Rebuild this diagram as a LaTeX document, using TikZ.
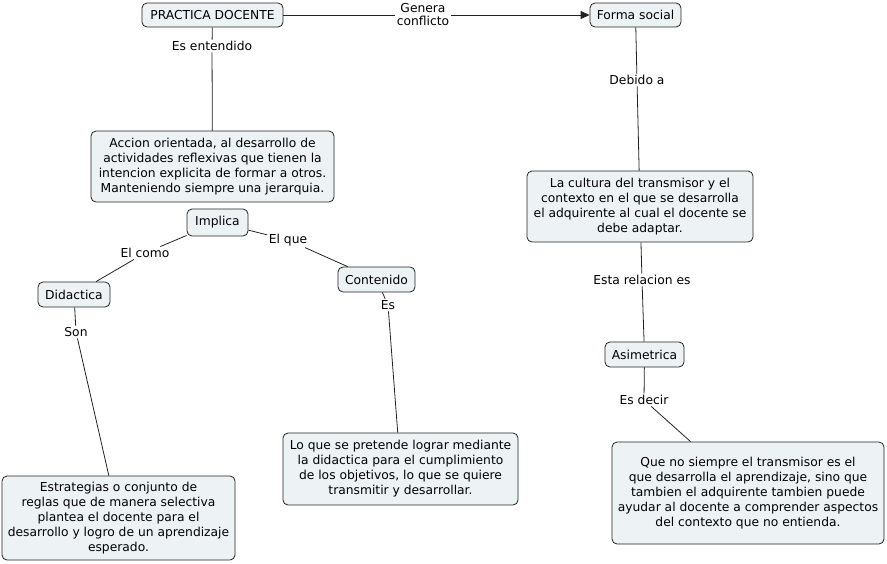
\documentclass[tikz,border=0pt]{standalone}
\usepackage{fontspec}
\setmainfont{DejaVu Sans}
\usetikzlibrary{arrows.meta}
\definecolor{cfill}{HTML}{EDF3F5}
\definecolor{cline}{HTML}{222222}
\tikzset{
  concept/.style={draw=cline, fill=cfill, rounded corners=5pt, line width=0.8pt, align=center, inner sep=2pt, font=\fontsize{12.3}{15}\selectfont},
  linklabel/.style={fill=white, align=center, inner sep=1.5pt, font=\fontsize{12.3}{13}\selectfont},
  conn/.style={draw=cline, line width=0.8pt}
}
\begin{document}
\begin{tikzpicture}[x=1pt,y=-1pt]
\useasboundingbox (0,0) rectangle (887,563);
% concepts
\node[concept, minimum width=141pt, minimum height=24pt] (pd) at (212.5,15) {PRACTICA DOCENTE};
\node[concept, minimum width=91pt, minimum height=24pt] (fs) at (635.5,15) {Forma social};
\node[concept, minimum width=243pt, minimum height=71pt] (acc) at (212.5,166.5) {Accion orientada, al desarrollo de\\actividades reflexivas que tienen la\\intencion explicita de formar a otros.\\Manteniendo siempre una jerarquia.};
\node[concept, minimum width=61pt, minimum height=27pt] (imp) at (217.5,222.5) {Implica};
\node[concept, minimum width=72pt, minimum height=25pt] (did) at (74,294.5) {Didactica};
\node[concept, minimum width=77pt, minimum height=25pt] (con) at (376.5,279.5) {Contenido};
\node[concept, minimum width=235pt, minimum height=72pt] (loq) at (400.5,469) {Lo que se pretende lograr mediante\\la didactica para el cumplimiento\\de los objetivos, lo que se quiere\\transmitir y desarrollar.};
\node[concept, minimum width=233pt, minimum height=84pt] (est) at (118.5,518) {Estrategias o conjunto de\\reglas que de manera selectiva\\plantea el docente para el\\desarrollo y logro de un aprendizaje\\esperado.};
\node[concept, minimum width=226pt, minimum height=71pt] (cul) at (640,206.5) {La cultura del transmisor y el\\contexto en el que se desarrolla\\el adquirente al cual el docente se\\debe adaptar.};
\node[concept, minimum width=79pt, minimum height=25pt] (asi) at (644.5,354.5) {Asimetrica};
\node[concept, minimum width=272pt, minimum height=102pt] (que) at (748,493) {Que no siempre el transmisor es el\\que desarrolla el aprendizaje, sino que\\tambien el adquirente tambien puede\\ayudar al docente a comprender aspectos\\del contexto que no entienda.};
% link labels
\node[linklabel] (l1) at (423,15) {Genera\\conflicto};
\node[linklabel] (l2) at (212,46) {Es entendido};
\node[linklabel] (l3) at (145,253) {El como};
\node[linklabel] (l4) at (288,240) {El que};
\node[linklabel] (l5) at (388,305) {Es};
\node[linklabel] (l6) at (76,332) {Son};
\node[linklabel] (l7) at (637,80) {Debido a};
\node[linklabel] (l8) at (642,280) {Esta relacion es};
\node[linklabel] (l9) at (644,400) {Es decir};
% connectors
\draw[conn] (pd) -- (l1);
\draw[conn, -{Triangle[length=9pt,width=8pt]}] (l1) -- (fs);
\draw[conn] (pd) -- (l2) -- (acc);
\draw[conn] (imp) -- (l3) -- (did);
\draw[conn] (imp) -- (l4) -- (con);
\draw[conn] (con) -- (l5) -- (loq);
\draw[conn] (did) -- (l6) -- (est);
\draw[conn] (fs) -- (l7) -- (cul);
\draw[conn] (cul) -- (l8) -- (asi);
\draw[conn] (asi) -- (l9) -- (que);
\end{tikzpicture}
\end{document}
